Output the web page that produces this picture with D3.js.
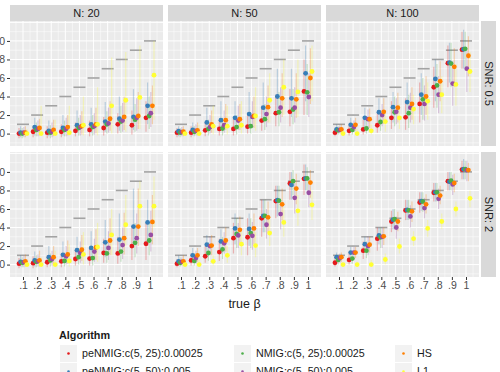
<!DOCTYPE html>
<html>
<head>
<meta charset="utf-8">
<script src="https://cdn.jsdelivr.net/npm/d3@7"></script>
<style>
  body { margin: 0; background: #fff; }
  svg { display: block; font-family: "Liberation Sans", Arial, sans-serif; }
</style>
</head>
<body>
<div id="chart"></div>
<script>
// categories
const trueBeta = [0.1, 0.2, 0.3, 0.4, 0.5, 0.6, 0.7, 0.8, 0.9, 1.0];
const xTickLabels = [".1", ".2", ".3", ".4", ".5", ".6", ".7", ".8", ".9", "1"];
const yTicks = [0, 0.2, 0.4, 0.6, 0.8, 1.0];
const algorithms = ["peNMIG:c(5, 25):0.00025", "peNMIG:c(5, 50):0.005",
  "NMIG:c(5, 25):0.00025", "NMIG:c(5, 50):0.005", "HS", "L1"];
const algoColors = ["#E41A1C", "#377EB8", "#4DAF4A", "#984EA3", "#FF7F00", "#FFFF33"];
const colLabels = ["N: 20", "N: 50", "N: 100"];
const rowLabels = ["SNR: 0.5", "SNR: 2"];

// per panel: rows = algorithms (same order as above), columns = true beta
const mean_N20_SNR05 = [
  [0.00,0.02,0.01,0.02,0.03,0.04,0.06,0.10,0.09,0.17],
  [0.01,0.07,0.03,0.06,0.09,0.10,0.13,0.16,0.18,0.30],
  [0.00,0.04,0.01,0.04,0.06,0.07,0.10,0.13,0.15,0.19],
  [0.01,0.05,0.02,0.05,0.07,0.08,0.11,0.14,0.17,0.22],
  [0.01,0.06,0.04,0.07,0.08,0.10,0.16,0.18,0.19,0.30],
  [0.00,0.00,0.00,0.01,0.09,0.10,0.30,0.36,0.39,0.63]];
const lo_N20_SNR05 = [
  [-0.05,-0.04,-0.05,-0.04,-0.03,-0.03,-0.02,0.00,-0.01,0.02],
  [-0.04,-0.02,-0.03,-0.02,0.00,0.00,0.02,0.03,0.04,0.10],
  [-0.05,-0.03,-0.05,-0.03,-0.02,-0.02,0.00,0.01,0.02,0.05],
  [-0.04,-0.03,-0.04,-0.03,-0.02,-0.01,0.01,0.02,0.03,0.07],
  [-0.04,-0.02,-0.03,-0.02,-0.01,0.00,0.03,0.04,0.05,0.10],
  [-0.02,-0.02,-0.02,-0.02,-0.02,-0.02,0.00,0.02,0.05,0.15]];
const hi_N20_SNR05 = [
  [0.06,0.08,0.08,0.10,0.12,0.14,0.18,0.22,0.25,0.35],
  [0.08,0.17,0.14,0.20,0.25,0.28,0.34,0.40,0.48,0.55],
  [0.06,0.12,0.09,0.14,0.17,0.20,0.24,0.30,0.32,0.40],
  [0.07,0.14,0.12,0.17,0.20,0.22,0.28,0.33,0.38,0.45],
  [0.08,0.16,0.15,0.20,0.24,0.28,0.35,0.40,0.45,0.52],
  [0.05,0.30,0.15,0.30,0.40,0.50,0.82,0.88,0.95,1.00]];

const mean_N50_SNR05 = [
  [0.01,0.01,0.035,0.05,0.05,0.075,0.14,0.22,0.235,0.455],
  [0.025,0.04,0.12,0.145,0.17,0.21,0.28,0.40,0.38,0.65],
  [0.01,0.02,0.05,0.055,0.07,0.08,0.155,0.23,0.26,0.445],
  [0.015,0.03,0.07,0.09,0.14,0.18,0.21,0.28,0.28,0.395],
  [0.02,0.035,0.10,0.145,0.155,0.19,0.285,0.38,0.37,0.60],
  [0.00,0.00,0.08,0.08,0.09,0.19,0.36,0.50,0.45,0.67]];
const lo_N50_SNR05 = [
  [-0.04,-0.04,-0.03,-0.02,-0.02,0.00,0.03,0.08,0.08,0.20],
  [-0.03,-0.02,0.02,0.04,0.05,0.07,0.12,0.20,0.18,0.35],
  [-0.04,-0.03,-0.02,-0.02,-0.01,0.00,0.04,0.08,0.10,0.20],
  [-0.03,-0.02,0.00,0.01,0.04,0.06,0.07,0.12,0.12,0.18],
  [-0.03,-0.02,0.01,0.04,0.04,0.06,0.12,0.18,0.17,0.32],
  [-0.02,-0.02,-0.01,-0.01,0.00,0.03,0.12,0.20,0.18,0.35]];
const hi_N50_SNR05 = [
  [0.06,0.08,0.12,0.15,0.16,0.20,0.30,0.42,0.48,0.80],
  [0.08,0.12,0.28,0.35,0.35,0.45,0.55,0.70,0.70,0.95],
  [0.06,0.08,0.15,0.17,0.20,0.22,0.32,0.45,0.48,0.75],
  [0.07,0.10,0.20,0.25,0.30,0.35,0.40,0.50,0.50,0.65],
  [0.08,0.12,0.25,0.32,0.32,0.40,0.52,0.65,0.65,0.92],
  [0.05,0.10,0.30,0.30,0.35,0.50,0.65,0.80,0.80,0.95]];

const mean_N100_SNR05 = [
  [0.01,0.03,0.045,0.09,0.17,0.175,0.32,0.50,0.76,0.905],
  [0.045,0.095,0.17,0.23,0.285,0.34,0.42,0.59,0.765,0.91],
  [0.035,0.04,0.055,0.125,0.23,0.22,0.37,0.52,0.755,0.915],
  [0.04,0.07,0.155,0.20,0.235,0.28,0.32,0.42,0.54,0.70],
  [0.045,0.095,0.155,0.235,0.28,0.32,0.40,0.565,0.72,0.84],
  [0.00,0.00,0.03,0.13,0.17,0.265,0.35,0.42,0.53,0.67]];
const lo_N100_SNR05 = [
  [-0.03,-0.02,-0.01,0.01,0.05,0.04,0.12,0.28,0.50,0.70],
  [0.00,0.03,0.06,0.10,0.12,0.16,0.20,0.35,0.55,0.70],
  [-0.01,-0.01,0.00,0.03,0.08,0.06,0.15,0.28,0.50,0.70],
  [0.00,0.02,0.05,0.08,0.10,0.12,0.14,0.22,0.30,0.45],
  [0.00,0.03,0.06,0.10,0.12,0.15,0.20,0.35,0.50,0.62],
  [-0.02,-0.02,-0.01,0.02,0.05,0.10,0.15,0.22,0.30,0.45]];
const hi_N100_SNR05 = [
  [0.06,0.10,0.15,0.22,0.35,0.38,0.55,0.72,0.95,1.10],
  [0.10,0.17,0.28,0.38,0.45,0.55,0.65,0.80,0.98,1.12],
  [0.08,0.10,0.15,0.25,0.40,0.42,0.60,0.75,0.98,1.10],
  [0.09,0.14,0.26,0.32,0.38,0.44,0.52,0.62,0.78,0.92],
  [0.10,0.17,0.27,0.38,0.44,0.50,0.62,0.78,0.92,1.05],
  [0.03,0.05,0.10,0.25,0.32,0.42,0.55,0.62,0.75,0.88]];

const mean_N20_SNR2 = [
  [0.01,0.015,0.025,0.035,0.06,0.065,0.125,0.12,0.20,0.225],
  [0.03,0.045,0.08,0.105,0.155,0.18,0.24,0.27,0.41,0.455],
  [0.02,0.03,0.045,0.04,0.08,0.07,0.12,0.14,0.235,0.26],
  [0.025,0.035,0.06,0.09,0.125,0.14,0.18,0.21,0.285,0.32],
  [0.035,0.045,0.08,0.11,0.16,0.185,0.26,0.285,0.41,0.46],
  [0.00,0.00,0.00,0.04,0.11,0.19,0.32,0.43,0.63,0.63]];
const lo_N20_SNR2 = [
  [-0.04,-0.04,-0.03,-0.03,-0.01,-0.01,0.02,0.01,0.05,0.05],
  [-0.02,-0.02,0.00,0.01,0.04,0.05,0.08,0.10,0.18,0.20],
  [-0.03,-0.03,-0.02,-0.02,0.00,-0.01,0.02,0.03,0.08,0.10],
  [-0.03,-0.02,-0.01,0.00,0.02,0.03,0.05,0.06,0.12,0.14],
  [-0.02,-0.02,0.00,0.01,0.04,0.05,0.10,0.11,0.20,0.22],
  [-0.02,-0.02,-0.02,-0.02,0.00,0.03,0.10,0.20,0.40,0.40]];
const hi_N20_SNR2 = [
  [0.07,0.09,0.10,0.12,0.16,0.18,0.28,0.30,0.42,0.45],
  [0.10,0.14,0.20,0.25,0.30,0.36,0.48,0.55,0.82,0.70],
  [0.08,0.10,0.12,0.13,0.18,0.18,0.26,0.30,0.45,0.45],
  [0.09,0.11,0.15,0.20,0.25,0.28,0.36,0.40,0.55,0.58],
  [0.11,0.15,0.20,0.26,0.32,0.38,0.50,0.56,0.82,0.75],
  [0.05,0.08,0.15,0.22,0.35,0.45,0.60,0.75,0.90,0.95]];

const mean_N50_SNR2 = [
  [0.01,0.045,0.09,0.135,0.285,0.295,0.50,0.685,0.875,0.925],
  [0.035,0.10,0.215,0.25,0.39,0.385,0.525,0.695,0.86,0.93],
  [0.02,0.04,0.125,0.165,0.33,0.34,0.525,0.69,0.90,0.93],
  [0.03,0.07,0.20,0.23,0.315,0.31,0.43,0.545,0.72,0.775],
  [0.035,0.10,0.205,0.26,0.375,0.39,0.51,0.65,0.82,0.885],
  [0.00,0.00,0.035,0.10,0.22,0.205,0.34,0.455,0.58,0.645]];
const lo_N50_SNR2 = [
  [-0.03,-0.01,0.02,0.04,0.12,0.10,0.30,0.50,0.70,0.75],
  [-0.01,0.03,0.10,0.12,0.22,0.20,0.35,0.52,0.70,0.80],
  [-0.02,-0.01,0.04,0.06,0.18,0.18,0.35,0.55,0.75,0.80],
  [-0.01,0.01,0.10,0.12,0.18,0.16,0.28,0.38,0.55,0.62],
  [-0.01,0.03,0.10,0.14,0.22,0.22,0.34,0.48,0.65,0.72],
  [-0.02,-0.02,-0.01,0.02,0.10,0.08,0.20,0.30,0.42,0.48]];
const hi_N50_SNR2 = [
  [0.06,0.12,0.20,0.28,0.45,0.50,0.70,0.85,1.00,1.08],
  [0.10,0.18,0.32,0.38,0.55,0.55,0.70,0.85,1.00,1.08],
  [0.08,0.12,0.24,0.30,0.50,0.50,0.70,0.85,1.02,1.05],
  [0.08,0.15,0.30,0.35,0.45,0.46,0.60,0.70,0.88,0.92],
  [0.10,0.18,0.32,0.40,0.52,0.55,0.68,0.82,0.98,1.02],
  [0.03,0.05,0.10,0.20,0.35,0.35,0.50,0.62,0.75,0.80]];

const mean_N100_SNR2 = [
  [0.02,0.05,0.15,0.28,0.465,0.585,0.67,0.775,0.90,1.025],
  [0.08,0.13,0.22,0.315,0.485,0.59,0.685,0.78,0.895,1.03],
  [0.05,0.065,0.15,0.295,0.49,0.585,0.68,0.78,0.905,1.03],
  [0.07,0.13,0.20,0.30,0.40,0.52,0.61,0.71,0.865,1.02],
  [0.08,0.13,0.215,0.305,0.465,0.575,0.65,0.745,0.88,1.02],
  [0.00,0.00,0.00,0.055,0.195,0.28,0.39,0.465,0.60,0.715]];
const lo_N100_SNR2 = [
  [-0.02,0.00,0.06,0.15,0.35,0.48,0.56,0.68,0.80,0.92],
  [0.03,0.07,0.14,0.22,0.38,0.48,0.58,0.68,0.80,0.92],
  [0.00,0.01,0.07,0.18,0.38,0.48,0.57,0.68,0.80,0.92],
  [0.02,0.05,0.10,0.18,0.28,0.40,0.50,0.60,0.75,0.90],
  [0.03,0.07,0.13,0.21,0.36,0.46,0.55,0.65,0.78,0.90],
  [-0.02,-0.02,-0.02,0.00,0.12,0.20,0.30,0.38,0.52,0.62]];
const hi_N100_SNR2 = [
  [0.09,0.14,0.25,0.40,0.58,0.70,0.78,0.88,1.00,1.12],
  [0.13,0.19,0.30,0.40,0.60,0.70,0.78,0.88,1.00,1.14],
  [0.10,0.12,0.25,0.40,0.60,0.70,0.78,0.88,1.00,1.12],
  [0.12,0.19,0.30,0.40,0.52,0.64,0.72,0.82,0.97,1.12],
  [0.13,0.19,0.30,0.40,0.57,0.68,0.76,0.85,0.98,1.10],
  [0.02,0.03,0.05,0.12,0.28,0.36,0.48,0.55,0.68,0.80]];

const panels = [
  { row: 0, col: 0, mean: mean_N20_SNR05, lo: lo_N20_SNR05, hi: hi_N20_SNR05 },
  { row: 0, col: 1, mean: mean_N50_SNR05, lo: lo_N50_SNR05, hi: hi_N50_SNR05 },
  { row: 0, col: 2, mean: mean_N100_SNR05, lo: lo_N100_SNR05, hi: hi_N100_SNR05 },
  { row: 1, col: 0, mean: mean_N20_SNR2, lo: lo_N20_SNR2, hi: hi_N20_SNR2 },
  { row: 1, col: 1, mean: mean_N50_SNR2, lo: lo_N50_SNR2, hi: hi_N50_SNR2 },
  { row: 1, col: 2, mean: mean_N100_SNR2, lo: lo_N100_SNR2, hi: hi_N100_SNR2 },
];

// layout
const W = 500, H = 372;
const panelW = 153, panelH = 125, gap = 5;
const left0 = 10, top0 = 21, stripH = 16, stripW = 15;
const colX = (c) => left0 + c * (panelW + gap);
const rowY = (r) => top0 + r * (panelH + gap + 1);

const x = d3.scaleLinear().domain([0.1, 1]).range([13, 140]);
const y = d3.scaleLinear().domain([-0.134, 1.215]).range([panelH, 0]);
const dodge = d3.scalePoint().domain(d3.range(algorithms.length)).range([-4, 4]);

const svg = d3.select("#chart").append("svg").attr("width", W).attr("height", H);
svg.append("rect").attr("width", W).attr("height", H).attr("fill", "#fff");

// column strips
colLabels.forEach((lab, c) => {
  const g = svg.append("g").attr("transform", `translate(${colX(c)},${top0 - stripH})`);
  g.append("rect").attr("width", panelW).attr("height", stripH).attr("fill", "#D9D9D9");
  g.append("text").attr("x", panelW / 2).attr("y", stripH / 2).attr("dy", "0.35em")
    .attr("text-anchor", "middle").attr("font-size", 11).attr("fill", "#1A1A1A").text(lab);
});
// row strips
rowLabels.forEach((lab, r) => {
  const sx = colX(2) + panelW + 2;
  const g = svg.append("g").attr("transform", `translate(${sx},${rowY(r)})`);
  g.append("rect").attr("width", stripW).attr("height", panelH).attr("fill", "#D9D9D9");
  g.append("text").attr("transform", `translate(${stripW / 2},${panelH / 2}) rotate(90)`)
    .attr("dy", "0.35em").attr("text-anchor", "middle").attr("font-size", 11)
    .attr("fill", "#1A1A1A").text(lab);
});

const minorY = [-0.1, 0.1, 0.3, 0.5, 0.7, 0.9, 1.1];
const minorX = d3.range(0.05, 1.1, 0.1).filter((v) => x(v) > 0 && x(v) < panelW);

panels.forEach((p) => {
  const g = svg.append("g").attr("transform", `translate(${colX(p.col)},${rowY(p.row)})`);
  g.append("rect").attr("width", panelW).attr("height", panelH).attr("fill", "#EBEBEB");

  // grid
  g.selectAll(".gminy").data(minorY).join("line")
    .attr("x1", 0).attr("x2", panelW).attr("y1", (d) => y(d)).attr("y2", (d) => y(d))
    .attr("stroke", "#fff").attr("stroke-width", 0.5);
  g.selectAll(".gminx").data(minorX).join("line")
    .attr("y1", 0).attr("y2", panelH).attr("x1", (d) => x(d)).attr("x2", (d) => x(d))
    .attr("stroke", "#fff").attr("stroke-width", 0.5);
  g.selectAll(".gmajy").data(yTicks.concat([1.2])).join("line")
    .attr("x1", 0).attr("x2", panelW).attr("y1", (d) => y(d)).attr("y2", (d) => y(d))
    .attr("stroke", "#fff").attr("stroke-width", 1);
  g.selectAll(".gmajx").data(trueBeta).join("line")
    .attr("y1", 0).attr("y2", panelH).attr("x1", (d) => x(d)).attr("x2", (d) => x(d))
    .attr("stroke", "#fff").attr("stroke-width", 1);

  // true value dashes
  g.selectAll(".truth").data(trueBeta).join("line")
    .attr("x1", (d) => x(d) - 6).attr("x2", (d) => x(d) + 6)
    .attr("y1", (d) => y(d)).attr("y2", (d) => y(d))
    .attr("stroke", "#A3A3A3").attr("stroke-width", 1.6);

  // error bars
  algorithms.forEach((a, k) => {
    g.selectAll(null).data(trueBeta).join("line")
      .attr("x1", (d) => x(d) + dodge(k)).attr("x2", (d) => x(d) + dodge(k))
      .attr("y1", (d, i) => y(p.lo[k][i])).attr("y2", (d, i) => y(p.hi[k][i]))
      .attr("stroke", algoColors[k]).attr("stroke-width", 1.2).attr("stroke-opacity", 0.28);
  });
  // points
  algorithms.forEach((a, k) => {
    g.selectAll(null).data(trueBeta).join("circle")
      .attr("cx", (d) => x(d) + dodge(k)).attr("cy", (d, i) => y(p.mean[k][i]))
      .attr("r", 2.4).attr("fill", algoColors[k]);
  });

  // axes
  if (p.col === 0) {
    const ax = g.append("g").call(d3.axisLeft(y).tickValues(yTicks).tickSize(3).tickPadding(2)
      .tickFormat(d3.format(".1f")));
    ax.select(".domain").remove();
    ax.selectAll("line").attr("stroke", "#333");
    ax.selectAll("text").attr("font-size", 10.5).attr("fill", "#4D4D4D").attr("font-family", null);
  }
  if (p.row === 1) {
    const ax = g.append("g").attr("transform", `translate(0,${panelH})`)
      .call(d3.axisBottom(x).tickValues(trueBeta).tickSize(3).tickPadding(2)
        .tickFormat((d, i) => xTickLabels[i]));
    ax.select(".domain").remove();
    ax.selectAll("line").attr("stroke", "#333");
    ax.selectAll("text").attr("font-size", 10.5).attr("fill", "#4D4D4D").attr("font-family", null);
  }
});

// axis title
svg.append("text").attr("x", colX(0) + (colX(2) + panelW - colX(0)) / 2).attr("y", 308)
  .attr("text-anchor", "middle").attr("font-size", 12.5).attr("fill", "#1A1A1A").text("true β");

// legend
const lg = svg.append("g");
lg.append("text").attr("x", 59).attr("y", 339).attr("font-size", 10.8).attr("font-weight", "bold")
  .attr("fill", "#1A1A1A").text("Algorithm");
const legCols = [60, 234, 395];
algorithms.forEach((a, k) => {
  const c = Math.floor(k / 2), r = k % 2;
  const kx = legCols[c], ky = 345 + r * 18;
  lg.append("rect").attr("x", kx).attr("y", ky).attr("width", 17).attr("height", 17).attr("fill", "#F2F2F2");
  lg.append("circle").attr("cx", kx + 8.5).attr("cy", ky + 8.5).attr("r", 1.3).attr("fill", algoColors[k]);
  lg.append("text").attr("x", kx + 22).attr("y", ky + 8.5).attr("dy", "0.35em").attr("font-size", 10.7)
    .attr("fill", "#1A1A1A").text(a);
});
</script>
</body>
</html>
